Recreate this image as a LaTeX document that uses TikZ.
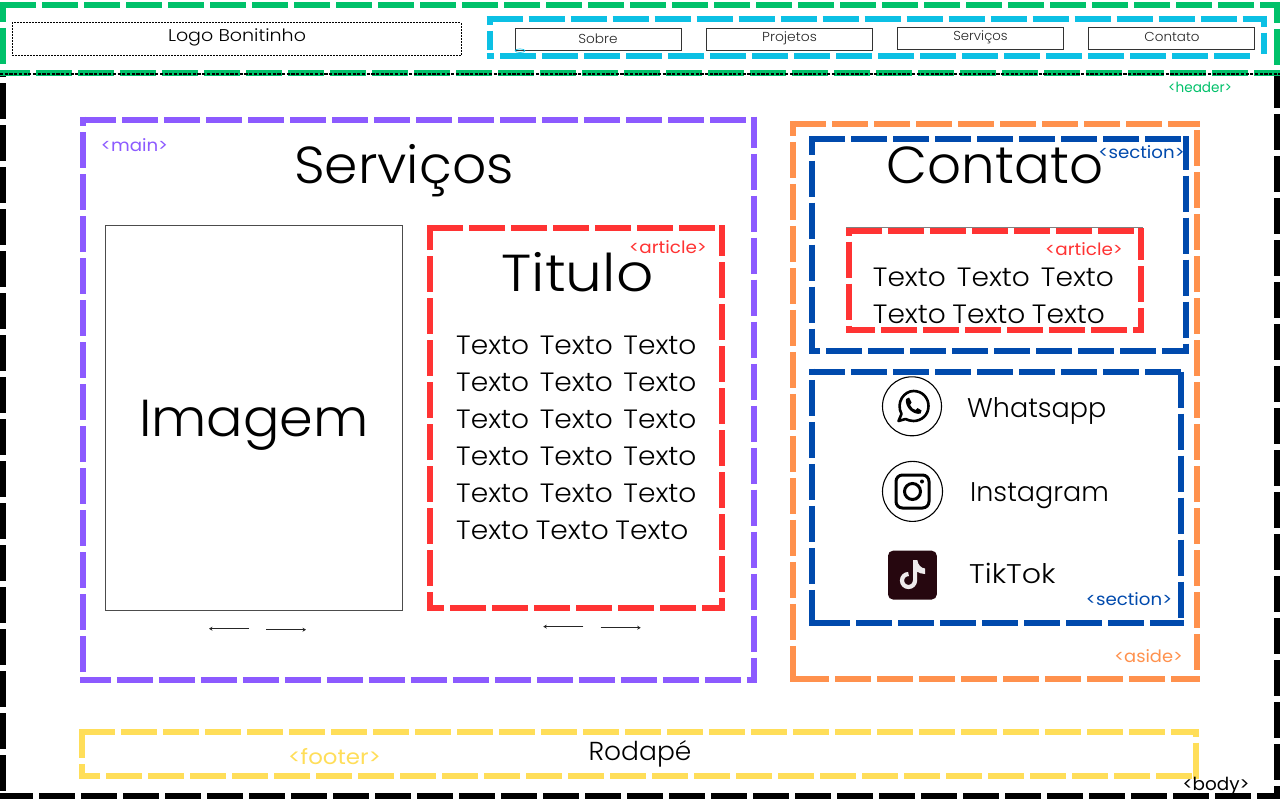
\documentclass[tikz,border=0pt]{standalone}
\usepackage{graphicx}
\usepackage{fontspec}
\setmainfont{Poppins}[UprightFont=* Light]
\newfontfamily\lblfont{Poppins}
\usetikzlibrary{arrows.meta}
\definecolor{cgreen}{HTML}{00C16A}
\definecolor{ccyan}{HTML}{0CC0E4}
\definecolor{cpurple}{HTML}{8C5AFF}
\definecolor{cred}{HTML}{FF3333}
\definecolor{corange}{HTML}{FF914D}
\definecolor{cblue}{HTML}{004AAD}
\definecolor{cyellow}{HTML}{FFDE59}
\definecolor{ctik}{HTML}{26070F}
\newcommand{\fsz}[1]{\fontsize{#1}{#1}\selectfont}
\newcommand{\sx}[2]{\scalebox{#1}[1]{#2}}
\newcommand{\wrd}{\sx{1.06}{Texto}}
\newcommand{\txline}[1]{\wrd\hspace{#1pt}\wrd\hspace{#1pt}\wrd}
% one dashed side: colour, x0, y0, x1, y1, phase
\newcommand{\seg}[6]{\draw[zone=#1,dash phase=#6pt] (#2,#3) -- (#4,#5);}
% dashed box by centre lines: colour, x1, y1, x2, y2, phase top, right, bottom, left
\newcommand{\zbox}[9]{%
  \seg{#1}{#2-3}{#3}{#4+3}{#3}{#6}%
  \seg{#1}{#4}{#3-3}{#4}{#5+3}{#7}%
  \seg{#1}{#2-3}{#5}{#4+3}{#5}{#8}%
  \seg{#1}{#2}{#3-3}{#2}{#5+3}{#9}%
}
\tikzset{
  x=1pt,y=-1pt,
  zone/.style={draw=#1,line width=6pt,dash pattern=on 36pt off 6pt,line cap=butt},
  navbox/.style={draw=black!80,line width=0.9pt,minimum width=166.5pt,minimum height=22pt,inner sep=0pt},
  navtxt/.style={inner sep=0pt,font=\fsz{13},text=black!85},
  zlabel/.style={inner sep=0pt,font=\lblfont\fsz{#1}},
  zlabel/.default=17,
  txtline/.style={inner sep=0pt,font=\fsz{26.5},anchor=base west,text=black},
  bigtxt/.style={inner sep=0pt,font=\fsz{52},anchor=base,text=black},
  socialtxt/.style={inner sep=0pt,anchor=base west,font=\fsz{27},text=black},
  arrowline/.style={draw=black!85,line width=1pt,-{Stealth[length=3.5pt,width=4pt]}},
}
\begin{document}
\begin{tikzpicture}
\useasboundingbox (0,0) rectangle (1280,800);
\fill[white] (0,0) rectangle (1280,800);
% body
\seg{black}{3}{75}{3}{799.3}{33.7}
\seg{black}{1277}{75}{1277}{799.3}{2.7}
\seg{black}{0}{796.3}{1280}{796.3}{2.7}
% header
\zbox{cgreen}{3}{5.5}{1277}{72.8}{0}{15.7}{6}{16.7}
\draw[black,line width=1.1pt,dash pattern=on 3.2pt off 1.5pt] (0,74) -- (1280,74);
% nav
\seg{ccyan}{486.5}{19}{1267}{19}{0}
\seg{ccyan}{1264}{16}{1264}{54}{25.3}
\seg{ccyan}{486.5}{55.7}{1255}{55.7}{28.5}
\seg{ccyan}{489.5}{16}{489.5}{50}{27}
\node[draw=black,dash pattern=on 2pt off 1pt,line width=0.9pt,minimum width=449pt,minimum height=33pt,inner sep=0pt] (logo) at (236.7,39.3) {};
\node[inner sep=0pt,font=\fsz{17}] (logotxt) at (237,37.5) {\sx{1.12}{Logo Bonitinho}};
\node[navbox] (n1) at (598.2,39.5) {};
\node[navbox] (n2) at (789.3,39.5) {};
\node[navbox] (n3) at (980.3,38.3) {};
\node[navbox] (n4) at (1171.3,38.3) {};
\draw[ccyan,line width=0.6pt] (520,50.7) ellipse[x radius=5,y radius=1.8];
\node[navtxt] (t1) at (598,39) {\sx{1.05}{Sobre}};
\node[navtxt] (t2) at (789.5,38) {\sx{1.07}{Projetos}};
\node[navtxt] (t3) at (980.5,37.5) {\sx{1.02}{Serviços}};
\node[navtxt] (t4) at (1172,37) {\sx{1.04}{Contato}};
\node[zlabel=14,text=cgreen] (lh) at (1200,87) {\sx{0.97}{<header>}};
% main
\zbox{cpurple}{83}{119.7}{754}{679.7}{0}{5.2}{5.1}{26.3}
\node[zlabel,text=cpurple] (lm) at (134.5,145) {\sx{1.07}{<main>}};
\node[bigtxt] (serv) at (404,183.6) {\sx{1.03}{Serviços}};
\node[draw=black!70,line width=1pt,minimum width=297pt,minimum height=385pt,inner sep=0pt] (img) at (254.2,417.8) {};
\node[bigtxt] (imgt) at (254,436) {\sx{1.04}{Imagem}};
\zbox{cred}{430}{228}{722}{607.8}{0}{5}{19}{11}
\node[zlabel,text=cred] (la) at (668,247) {\sx{1.08}{<article>}};
\node[bigtxt] (tit) at (577.5,291.8) {\sx{1.12}{Titulo}};
\node[txtline] (l1) at (456,354.8) {\txline{10.6}};
\node[txtline] (l2) at (456,391.7) {\txline{10.6}};
\node[txtline] (l3) at (456,428.6) {\txline{10.6}};
\node[txtline] (l4) at (456,465.4) {\txline{10.6}};
\node[txtline] (l5) at (456,502) {\txline{10.6}};
\node[txtline] (l6) at (456,539) {\txline{6.6}};
% arrows
\coordinate (a1) at (249,628.7); \coordinate (a2) at (209,628.7);
\coordinate (a3) at (266,629.7); \coordinate (a4) at (306,629.7);
\coordinate (a5) at (583.3,626.6); \coordinate (a6) at (543.3,626.6);
\coordinate (a7) at (600.7,627.7); \coordinate (a8) at (640.7,627.7);
\draw[arrowline] (a1) -- (a2);
\draw[arrowline] (a3) -- (a4);
\draw[arrowline] (a5) -- (a6);
\draw[arrowline] (a7) -- (a8);
% aside
\zbox{corange}{793}{123.8}{1196.5}{679.2}{0}{32.5}{39}{20.9}
\node[zlabel,text=corange] (las) at (1148.5,656) {\sx{1.05}{<aside>}};
\zbox{cblue}{812}{139}{1185.5}{351}{0}{2.3}{25}{17.3}
\node[bigtxt] (cont) at (995,183.6) {\sx{1.02}{Contato}};
\node[zlabel,text=cblue] (ls1) at (1141.5,152) {\sx{1.07}{<section>}};
\draw[black!50,line width=0.8pt] (846,227.4) -- (1143,227.4);
\zbox{cred}{849}{231}{1140.5}{330}{0}{4}{7}{28.4}
\node[zlabel,text=cred] (la2) at (1084,249) {\sx{1.08}{<article>}};
\node[txtline] (c1) at (872.7,286.6) {\txline{11}};
\node[txtline] (c2) at (872.7,323.4) {\txline{6.5}};
\zbox{cblue}{812}{371.5}{1180.5}{623}{0}{38.9}{37}{30.6}
\node[zlabel,text=cblue] (ls2) at (1129,599) {\sx{1.07}{<section>}};
% icons
\node[draw=black,circle,line width=1.1pt,minimum size=59pt,inner sep=0pt] (wa) at (912,406.3) {};
\node[draw=black,circle,line width=1.1pt,minimum size=60pt,inner sep=0pt] (ig) at (912.5,491.4) {};
\begin{scope}[shift={(913.5,406)}]
 \draw[black,line width=2.6pt,line join=round] (-12,8) .. controls (-18,-4) and (-9,-15) .. (0,-15) .. controls (9,-15) and (15,-8) .. (15,0) .. controls (15,9) and (8,15) .. (0,15) .. controls (-3,15) and (-6,14) .. (-8,13) -- (-15,15) -- cycle;
 \fill[black] (-7.5,-7) -- (-4.5,-8.5) -- (-2,-3.5) -- (-3.5,-1) .. controls (-2,2) and (0,3.5) .. (2,4) -- (4,2) -- (8,4.5) -- (7,7.5) .. controls (1,9.5) and (-9,2) .. (-7.5,-7) -- cycle;
\end{scope}
\begin{scope}[shift={(912.5,491.5)}]
 \draw[black,line width=3pt,rounded corners=6.5pt] (-16.5,-16.5) rectangle (16.5,16.5);
 \draw[black,line width=3pt] (0,0) circle[radius=8];
 \fill[black] (9.5,-10) circle[radius=2];
\end{scope}
\fill[ctik,rounded corners=5pt] (888,550.7) rectangle (936.8,599.5);
\draw[white!92!ctik,line width=4.2pt] (915,580.5) arc[start angle=0,end angle=270,radius=6.5];
\fill[white!92!ctik] (913,581) -- (913,560) -- (917.3,560) .. controls (918,565) and (921,568) .. (925,568.5) -- (925,574) .. controls (922,574) and (919,573) .. (917,571.5) -- (917,581) -- cycle;
\node[socialtxt] (wt) at (967,417.4) {Whatsapp};
\node[socialtxt] (it) at (970,501.4) {Instagram};
\node[socialtxt] (tt) at (969,583.5) {\sx{1.115}{TikTok}};
% footer
\zbox{cyellow}{82}{732}{1196.3}{775.5}{0}{28.3}{14.6}{6.7}
\node[inner sep=0pt,font=\fsz{26},anchor=base] (rod) at (640,760) {\sx{1.02}{Rodapé}};
\node[zlabel=21,text=cyellow] (lf) at (334.5,757) {\sx{1.09}{<footer>}};
\node[zlabel=18,text=black] (lb) at (1216,786) {\sx{1.02}{<body>}};
\end{tikzpicture}
\end{document}
